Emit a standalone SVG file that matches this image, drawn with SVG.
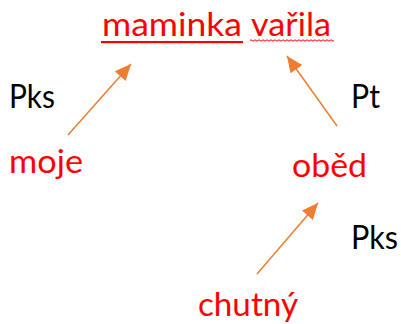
<svg xmlns="http://www.w3.org/2000/svg" width="401" height="324" viewBox="0 0 401 324">
<style>
text{font-family:Lato,"Open Sans","Liberation Sans",sans-serif;font-size:32px}
.r{fill:#FF0000}
.k{fill:#000000}
.c{stroke:#ED7D31;stroke-width:1.5;fill:none;marker-end:url(#ah)}
</style>
<defs>
<marker id="ah" viewBox="0 0 10 10" refX="10" refY="5" markerWidth="9" markerHeight="9" markerUnits="userSpaceOnUse" orient="auto" overflow="visible">
<path d="M-8,-3 L10,5 L-8,13 Z" fill="#ED7D31"/>
</marker>
</defs>
<rect width="401" height="324" fill="#fff"/>
<g id="n-maminka">
<text class="r" x="102" y="36" textLength="140" lengthAdjust="spacingAndGlyphs">maminka</text>
<rect x="101" y="41" width="142" height="2.2" fill="#FF0000"/>
</g>
<g id="n-varila">
<text class="r" x="251" y="36" textLength="80" lengthAdjust="spacingAndGlyphs">vařila</text>
<path d="M250,40.5 q1,-1.5 2,0 t2,0 t2,0 t2,0 t2,0 t2,0 t2,0 t2,0 t2,0 t2,0 t2,0 t2,0 t2,0 t2,0 t2,0 t2,0 t2,0 t2,0 t2,0 t2,0 t2,0 t2,0 t2,0 t2,0 t2,0 t2,0 t2,0 t2,0 t2,0 t2,0 t2,0 t2,0 t2,0 t2,0 t2,0 t2,0 t2,0 t2,0 t2,0 t2,0 t2,0 t2,0" stroke="#FF0000" stroke-width="1" fill="none"/>
</g>
<g id="n-moje"><text class="r" x="9" y="173" textLength="74" lengthAdjust="spacingAndGlyphs">moje</text></g>
<g id="n-obed"><text class="r" x="292" y="177" textLength="75" lengthAdjust="spacingAndGlyphs">oběd</text></g>
<g id="n-chutny"><text class="r" x="198" y="316" textLength="100" lengthAdjust="spacingAndGlyphs">chutný</text></g>
<g id="l-pks1"><text class="k" x="9" y="108" textLength="46" lengthAdjust="spacingAndGlyphs">Pks</text></g>
<g id="l-pt"><text class="k" x="351" y="108" textLength="29" lengthAdjust="spacingAndGlyphs">Pt</text></g>
<g id="l-pks2"><text class="k" x="351" y="249" textLength="47" lengthAdjust="spacingAndGlyphs">Pks</text></g>
<g id="connectors">
<line class="c" x1="68" y1="135" x2="131" y2="64"/>
<line class="c" x1="337" y1="126" x2="287" y2="56"/>
<line class="c" x1="257" y1="274" x2="318" y2="203"/>
</g>
</svg>
